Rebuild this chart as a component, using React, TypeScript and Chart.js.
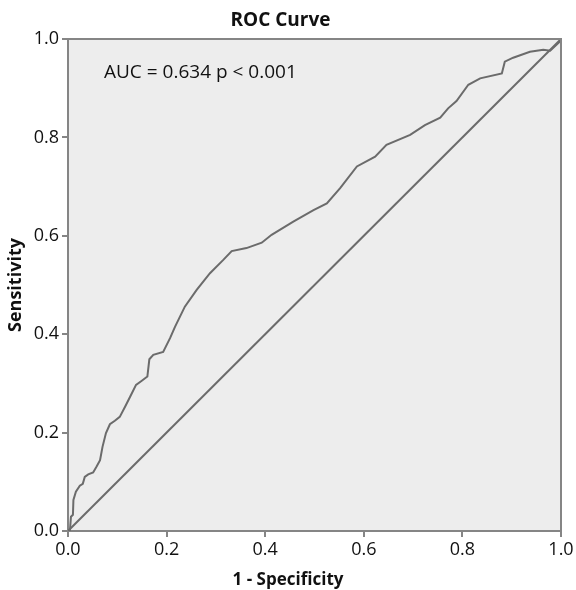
import React, { useEffect, useRef } from "react";
import { Chart, registerables } from "chart.js";

Chart.register(...registerables);

const titleText = "ROC Curve";
const xTitle = "1 - Specificity";
const yTitle = "Sensitivity";
const annotationText = "AUC = 0.634 p < 0.001";
const annotationPos = [0.073, 0.931];

const fpr = [
  0, 0.004, 0.006, 0.01, 0.011, 0.016, 0.024, 0.03, 0.034, 0.041, 0.051, 0.058,
  0.065, 0.07, 0.077, 0.085, 0.095, 0.105, 0.116, 0.126, 0.138, 0.149, 0.161,
  0.165, 0.173, 0.193, 0.207, 0.217, 0.237, 0.261, 0.288, 0.315, 0.332, 0.362,
  0.393, 0.413, 0.457, 0.498, 0.525, 0.552, 0.586, 0.623, 0.646, 0.694, 0.724,
  0.755, 0.771, 0.788, 0.812, 0.836, 0.88, 0.886, 0.903, 0.937, 0.964, 0.978,
  0.998, 1,
];
const tpr = [
  0, 0.002, 0.029, 0.033, 0.063, 0.08, 0.092, 0.096, 0.11, 0.115, 0.119, 0.131,
  0.144, 0.171, 0.199, 0.217, 0.224, 0.232, 0.253, 0.273, 0.297, 0.305, 0.314,
  0.349, 0.358, 0.364, 0.392, 0.415, 0.456, 0.49, 0.524, 0.551, 0.569, 0.575,
  0.586, 0.602, 0.629, 0.652, 0.666, 0.697, 0.741, 0.761, 0.785, 0.805, 0.825,
  0.84, 0.859, 0.874, 0.907, 0.92, 0.93, 0.954, 0.962, 0.974, 0.978, 0.976,
  0.995, 1,
];
const refX = [0, 1];
const refY = [0, 1];

const FONT = "'Open Sans', 'Noto Sans', sans-serif";
const LINE = "#6b6b6b";
const AXIS = "#858585";
const BG = "#ededed";

export default function App() {
  const ref = useRef<HTMLCanvasElement>(null);
  useEffect(() => {
    document.body.style.margin = "0";
    const ctx = ref.current!;
    const bgPlugin = {
      id: "bgPlugin",
      beforeDraw(chart: any) {
        const { ctx, chartArea: a } = chart;
        ctx.save();
        ctx.fillStyle = BG;
        ctx.fillRect(a.left, a.top, a.right - a.left, a.bottom - a.top);
        ctx.restore();
      },
      afterDraw(chart: any) {
        const { ctx, chartArea: a, scales } = chart;
        ctx.save();
        ctx.strokeStyle = AXIS;
        ctx.lineWidth = 2;
        ctx.beginPath();
        ctx.moveTo(a.left, a.top);
        ctx.lineTo(a.right, a.top);
        ctx.lineTo(a.right, a.bottom);
        ctx.stroke();
        ctx.fillStyle = "#111";
        ctx.font = `19px ${FONT}`;
        ctx.textAlign = "left";
        ctx.textBaseline = "middle";
        ctx.fillText(
          annotationText,
          scales.x.getPixelForValue(annotationPos[0]),
          scales.y.getPixelForValue(annotationPos[1])
        );
        ctx.font = `bold 17px ${FONT}`;
        ctx.textAlign = "center";
        ctx.fillText(xTitle, chart.width / 2, 580);
        ctx.restore();
      },
    };
    const chart = new Chart(ctx, {
      type: "scatter",
      data: {
        datasets: [
          {
            data: fpr.map((x, i) => ({ x, y: tpr[i] })),
            showLine: true,
            borderColor: LINE,
            borderWidth: 2,
            pointRadius: 0,
            tension: 0,
          },
          {
            data: refX.map((x, i) => ({ x, y: refY[i] })),
            showLine: true,
            borderColor: LINE,
            borderWidth: 2,
            pointRadius: 0,
          },
        ],
      },
      plugins: [bgPlugin],
      options: {
        animation: false,
        responsive: false,
        layout: { padding: { left: 0, right: 15, top: 0, bottom: 0 } },
        plugins: {
          legend: { display: false },
          tooltip: { enabled: false },
          title: {
            display: true,
            text: titleText,
            color: "#111",
            font: { family: FONT, size: 19, weight: "bold" },
            padding: { top: 9, bottom: 7.2 },
          },
        },
        scales: {
          x: {
            type: "linear",
            min: 0,
            max: 1,
            afterFit: (s: any) => {
              s.height = 59;
            },
            ticks: {
              stepSize: 0.2,
              color: "#111",
              font: { family: FONT, size: 18 },
              padding: 2,
              callback: (v: any) => Number(v).toFixed(1),
            },
            grid: {
              drawOnChartArea: false,
              drawTicks: true,
              tickLength: 6,
              color: AXIS,
              lineWidth: 2,
            },
            border: { color: AXIS, width: 2 },
            title: { display: false, text: xTitle },
          },
          y: {
            type: "linear",
            min: 0,
            max: 1,
            afterFit: (s: any) => {
              s.width = 68;
            },
            ticks: {
              stepSize: 0.2,
              color: "#111",
              font: { family: FONT, size: 18 },
              padding: 3,
              callback: (v: any) => Number(v).toFixed(1),
            },
            grid: {
              drawOnChartArea: false,
              drawTicks: true,
              tickLength: 6,
              color: AXIS,
              lineWidth: 2,
            },
            border: { color: AXIS, width: 2 },
            title: {
              display: true,
              text: yTitle,
              color: "#111",
              font: { family: FONT, size: 18, weight: "bold" },
              padding: { top: 5, bottom: 0 },
            },
          },
        },
      },
    } as any);
    return () => chart.destroy();
  }, []);
  return <canvas ref={ref} width={576} height={590} style={{ display: "block" }} />;
}
